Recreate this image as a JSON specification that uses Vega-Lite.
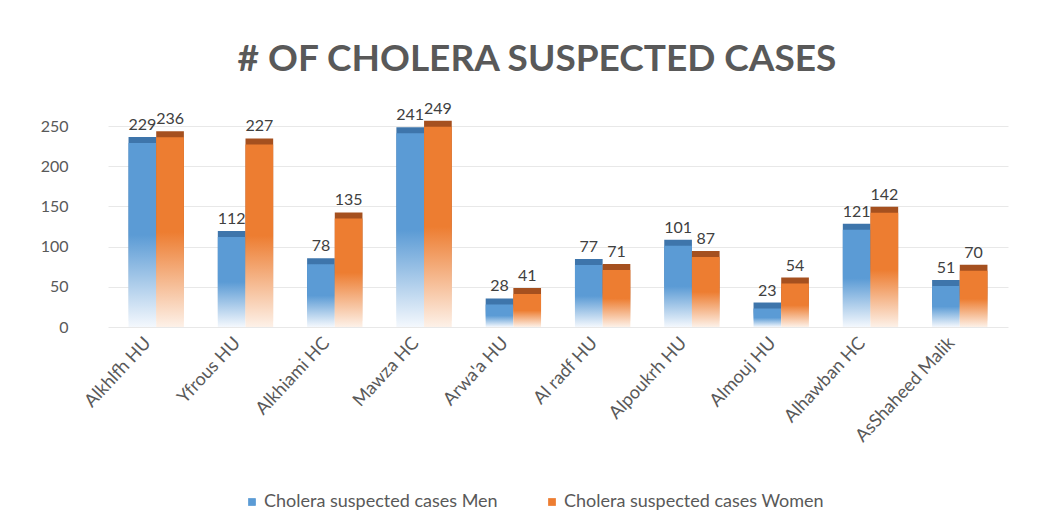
{
  "$schema": "https://vega.github.io/schema/vega-lite/v6.json",
  "width": 900,
  "height": 201,
  "padding": {"left": 40, "top": 40, "right": 40, "bottom": 10},
  "background": "white",
  "title": {"text": "# OF CHOLERA SUSPECTED CASES", "font": "Lato", "fontSize": 37, "fontWeight": "bold", "color": "#595959", "offset": 22, "anchor": "middle", "dx": -21},
  "config": {"view": {"stroke": null}, "font": "Lato"},
  "data": {"values": [
    {"site": "Alkhlfh HU", "series": "Cholera suspected cases Men", "cases": 229},
    {"site": "Alkhlfh HU", "series": "Cholera suspected cases Women", "cases": 236},
    {"site": "Yfrous HU", "series": "Cholera suspected cases Men", "cases": 112},
    {"site": "Yfrous HU", "series": "Cholera suspected cases Women", "cases": 227},
    {"site": "Alkhiami HC", "series": "Cholera suspected cases Men", "cases": 78},
    {"site": "Alkhiami HC", "series": "Cholera suspected cases Women", "cases": 135},
    {"site": "Mawza HC", "series": "Cholera suspected cases Men", "cases": 241},
    {"site": "Mawza HC", "series": "Cholera suspected cases Women", "cases": 249},
    {"site": "Arwa'a HU", "series": "Cholera suspected cases Men", "cases": 28},
    {"site": "Arwa'a HU", "series": "Cholera suspected cases Women", "cases": 41},
    {"site": "Al radf HU", "series": "Cholera suspected cases Men", "cases": 77},
    {"site": "Al radf HU", "series": "Cholera suspected cases Women", "cases": 71},
    {"site": "Alpoukrh HU", "series": "Cholera suspected cases Men", "cases": 101},
    {"site": "Alpoukrh HU", "series": "Cholera suspected cases Women", "cases": 87},
    {"site": "Almouj HU", "series": "Cholera suspected cases Men", "cases": 23},
    {"site": "Almouj HU", "series": "Cholera suspected cases Women", "cases": 54},
    {"site": "Alhawban  HC", "series": "Cholera suspected cases Men", "cases": 121},
    {"site": "Alhawban  HC", "series": "Cholera suspected cases Women", "cases": 142},
    {"site": "AsShaheed Malik", "series": "Cholera suspected cases Men", "cases": 51},
    {"site": "AsShaheed Malik", "series": "Cholera suspected cases Women", "cases": 70}
  ]},
  "encoding": {
    "x": {"field": "site", "type": "nominal", "sort": null,
      "scale": {"paddingInner": 0.38, "paddingOuter": 0.23},
      "axis": {"title": null, "labelAngle": -47, "labelFontSize": 18, "labelColor": "#595959", "ticks": false, "domain": false, "labelPadding": 13, "labelOffset": -8}},
    "xOffset": {"field": "series", "type": "nominal", "scale": {"domain": ["Cholera suspected cases Men", "Cholera suspected cases Women"]}},
    "y": {"field": "cases", "type": "quantitative",
      "scale": {"domain": [0, 250]},
      "axis": {"title": null, "values": [0, 50, 100, 150, 200, 250], "labelFontSize": 16, "labelColor": "#595959", "ticks": false, "domain": false, "gridColor": "#e8e8e8", "labelPadding": 40}}
  },
  "layer": [
    {
      "mark": {"type": "bar", "clip": false, "opacity": 0},
      "encoding": {
        "color": {"field": "series", "type": "nominal",
          "scale": {"domain": ["Cholera suspected cases Men", "Cholera suspected cases Women"], "range": ["#5B9BD5", "#ED7D31"]},
          "legend": {"title": null, "orient": "none", "legendX": 135, "legendY": 367, "direction": "horizontal", "labelFontSize": 18, "labelColor": "#595959", "symbolType": "square", "symbolSize": 60, "symbolOpacity": 1, "columnPadding": 45, "labelOffset": 3, "labelLimit": 400}}
      }
    },
    {
      "transform": [{"filter": "datum.series === 'Cholera suspected cases Men'"}],
      "mark": {"type": "bar", "clip": false, "yOffset": -6, "color": {"gradient": "linear", "x1": 0, "y1": 0, "x2": 0, "y2": 1, "stops": [{"offset": 0, "color": "#3E75AB"}, {"offset": 0.5, "color": "#3E75AB"}, {"offset": 1, "color": "#f4f8fd"}]}}
    },
    {
      "transform": [{"filter": "datum.series === 'Cholera suspected cases Men'"}],
      "mark": {"type": "bar", "clip": false, "color": {"gradient": "linear", "x1": 0, "y1": 0, "x2": 0, "y2": 1, "stops": [{"offset": 0, "color": "#5B9BD5"}, {"offset": 0.5, "color": "#5B9BD5"}, {"offset": 1, "color": "#f4f8fd"}]}}
    },
    {
      "transform": [{"filter": "datum.series === 'Cholera suspected cases Women'"}],
      "mark": {"type": "bar", "clip": false, "yOffset": -6, "color": {"gradient": "linear", "x1": 0, "y1": 0, "x2": 0, "y2": 1, "stops": [{"offset": 0, "color": "#A5501F"}, {"offset": 0.5, "color": "#A5501F"}, {"offset": 1, "color": "#fdf1e8"}]}}
    },
    {
      "transform": [{"filter": "datum.series === 'Cholera suspected cases Women'"}],
      "mark": {"type": "bar", "clip": false, "color": {"gradient": "linear", "x1": 0, "y1": 0, "x2": 0, "y2": 1, "stops": [{"offset": 0, "color": "#ED7D31"}, {"offset": 0.5, "color": "#ED7D31"}, {"offset": 1, "color": "#fdf1e8"}]}}
    },
    {
      "mark": {"type": "text", "dy": -18, "fontSize": 16, "color": "#404040"},
      "encoding": {"text": {"field": "cases", "type": "quantitative"}}
    }
  ]
}
